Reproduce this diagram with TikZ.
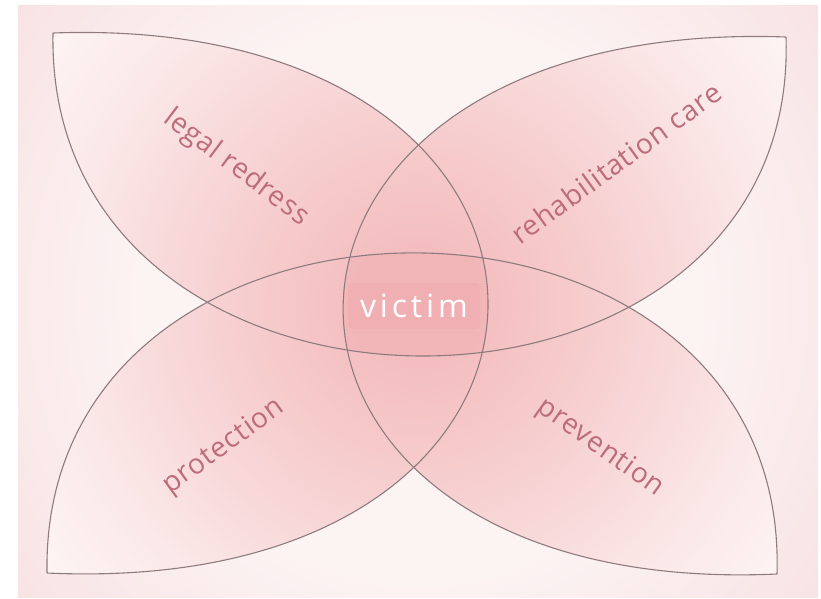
\documentclass[tikz,border=0pt]{standalone}
\usepackage{fontspec}
\setmainfont{Open Sans}
\definecolor{bg0}{HTML}{FCF3F3}
\definecolor{bg1}{HTML}{F8E3E4}
\definecolor{c0}{HTML}{F4BEC0}
\definecolor{c1}{HTML}{F6CACB}
\definecolor{c2}{HTML}{F8D8D9}
\definecolor{c3}{HTML}{FBE8E8}
\definecolor{c4}{HTML}{FDF5F4}
\definecolor{centerpink}{HTML}{EFA3A6}
\definecolor{boxpink}{HTML}{EE9EA2}
\definecolor{edgecol}{HTML}{8E7B7D}
\definecolor{labelcol}{HTML}{BC6D79}
\pgfdeclareradialshading{flower}{\pgfpoint{0bp}{0bp}}{color(0bp)=(c0); color(3bp)=(c0); color(7.5bp)=(c1); color(12.5bp)=(c2); color(17.5bp)=(c3); color(23bp)=(c4); color(50bp)=(c4)}
\pgfdeclareradialshading{backdrop}{\pgfpoint{0bp}{0bp}}{color(0bp)=(bg0); color(14bp)=(bg0); color(25bp)=(bg1); color(50bp)=(bg1)}
\tikzset{
  edge/.style={draw=edgecol, line width=1.1pt},
  petallabel/.style={text=labelcol, font=\fontsize{28}{30}\selectfont\addfontfeature{LetterSpace=3}, inner sep=0pt},
  victimtext/.style={font=\fontsize{32}{34}\selectfont\addfontfeature{LetterSpace=12}, inner sep=0pt},
}
\begin{document}
\begin{tikzpicture}[x=1pt,y=-1pt]
\path[use as bounding box] (0,0) rectangle (821,598);
% backdrop
\begin{scope}
\clip (18,5) rectangle (818,597);
\shade[shading=backdrop] (-82,-199) rectangle (918,801);
\end{scope}
% tips
\coordinate (T1) at (53,33);
\coordinate (T2) at (786,37);
\coordinate (T3) at (47,573);
\coordinate (T4) at (777,574);
% flower fill
\begin{scope}
\clip (T1) .. controls (634,12) and (634,600) .. (T3)
      .. controls (40,146) and (790,146) .. (T4)
      .. controls (197,600) and (197,16) .. (T2)
      .. controls (800,463) and (45,463) .. (T1) -- cycle;
\shade[shading=flower] (-82,-195) rectangle (918,805);
\end{scope}
% centre overlay
\begin{scope}
\clip (T1) .. controls (634,12) and (634,600) .. (T3) -- (-100,573) -- (-100,33) -- cycle;
\clip (T2) .. controls (197,16) and (197,600) .. (T4) -- (900,574) -- (900,37) -- cycle;
\clip (T1) .. controls (45,463) and (800,463) .. (T2) -- (786,-100) -- (53,-100) -- cycle;
\clip (T3) .. controls (40,146) and (790,146) .. (T4) -- (777,700) -- (47,700) -- cycle;
\fill[centerpink, opacity=0.3] (0,0) rectangle (821,598);
\end{scope}
% outlines
\draw[edge] (T1) .. controls (634,12) and (634,600) .. (T3);
\draw[edge] (T2) .. controls (197,16) and (197,600) .. (T4);
\draw[edge] (T1) .. controls (45,463) and (800,463) .. (T2);
\draw[edge] (T3) .. controls (40,146) and (790,146) .. (T4);
% labels
\node[petallabel, rotate=-37] (legal) at (236,168) {legal redress};
\node[petallabel, rotate=36] (rehab) at (616,163) {rehabilitation care};
\node[petallabel, rotate=36] (prot) at (224,447) {protection};
\node[petallabel, rotate=-35.5] (prev) at (600,448) {prevention};
% victim
\node[fill=boxpink, fill opacity=0.25, rounded corners=4pt, minimum width=132pt, minimum height=46pt, victimtext, text=white, text opacity=1] (victim) at (414,306) {victim};
\end{tikzpicture}
\end{document}
